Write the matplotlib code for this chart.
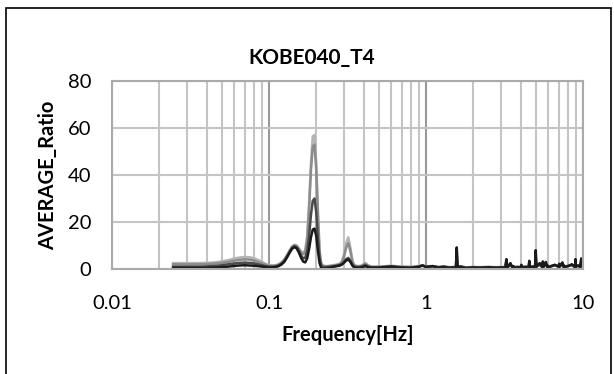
import matplotlib.pyplot as plt
from matplotlib.patches import Rectangle
from matplotlib.ticker import LogLocator, FixedLocator, NullFormatter

# frequency axis [Hz]
freq = [0.0245, 0.03, 0.035, 0.04, 0.045, 0.05, 0.055, 0.06, 0.065, 0.07, 0.075, 0.08, 0.085, 0.09, 0.095, 0.1,
        0.105, 0.11, 0.115, 0.12, 0.125, 0.13, 0.135, 0.14, 0.145, 0.15, 0.155, 0.16, 0.165, 0.17, 0.175, 0.18,
        0.185, 0.19, 0.195, 0.2, 0.205, 0.21, 0.215, 0.22,
        0.23, 0.24, 0.25, 0.26, 0.27, 0.28, 0.29, 0.3, 0.31, 0.32, 0.33, 0.34, 0.35, 0.37, 0.39, 0.41, 0.43, 0.45,
        0.5, 0.55, 0.6, 0.65, 0.7, 0.8, 0.9, 0.95, 1.0, 1.1, 1.2, 1.3, 1.4, 1.5, 1.55, 1.57, 1.59, 1.65,
        1.8, 2.0, 2.2, 2.5, 2.8, 3.1, 3.2, 3.25, 3.3, 3.45, 3.55, 3.6, 3.65, 3.8, 4.0, 4.05, 4.1, 4.3,
        4.5, 4.55, 4.6, 4.8, 4.95, 5.0, 5.05, 5.3, 5.5, 5.55, 5.6, 5.8, 5.9, 5.95, 6.0, 6.3, 6.6, 7.0,
        7.05, 7.1, 7.4, 7.5, 7.55, 7.6, 8.0, 8.5, 8.9, 8.95, 9.0, 9.3, 9.6, 9.75, 9.8, 9.85, 10.0]

ratio_light = [2.5, 2.5, 2.5, 2.6, 2.8, 3.2, 3.8, 4.4, 4.9, 5.1, 5.0, 4.6, 3.9, 3.0, 2.2, 1.6,
               1.5, 1.6, 2.0, 2.8, 4.0, 5.8, 7.8, 9.5, 10.3, 10.0, 8.8, 7.5, 7.0, 8.0, 14.0, 28.0,
               45.0, 56.5, 57.0, 45.0, 25.0, 8.0, 2.5, 1.5,
               1.2, 1.3, 1.5, 1.7, 1.9, 2.2, 3.0, 6.0, 11.0, 13.5, 9.0, 3.5, 1.6, 1.2, 1.5, 2.6, 1.5, 1.0,
               1.0, 1.2, 1.4, 1.2, 1.0, 0.9, 1.2, 1.6, 1.1, 1.3, 0.9, 1.1, 0.8, 0.9, 0.8, 3.0, 0.8, 1.2,
               0.7, 0.9, 0.8, 0.9, 0.8, 0.9, 0.8, 2.0, 0.9, 1.5, 0.9, 1.2, 0.8, 1.0, 0.9, 1.2, 0.9, 1.1,
               0.9, 1.8, 1.0, 1.2, 1.1, 3.0, 1.2, 1.6, 1.0, 1.8, 1.1, 1.8, 1.2, 1.4, 1.0, 1.4, 1.6, 1.2,
               1.6, 1.2, 1.8, 1.2, 1.4, 1.1, 1.4, 1.6, 1.0, 2.0, 1.2, 1.5, 1.1, 2.2, 1.4, 1.8, 1.5]

ratio_mid = [2.0, 2.0, 2.0, 2.1, 2.3, 2.6, 3.0, 3.5, 3.9, 4.1, 4.0, 3.6, 3.0, 2.4, 1.8, 1.4,
             1.3, 1.4, 1.8, 2.6, 3.8, 5.6, 7.6, 9.3, 10.1, 9.8, 8.5, 7.0, 6.3, 7.0, 12.0, 25.0,
             42.0, 52.0, 53.0, 42.0, 22.0, 7.0, 2.2, 1.3,
             1.1, 1.2, 1.3, 1.5, 1.7, 2.0, 2.7, 5.0, 9.0, 11.0, 7.5, 3.0, 1.4, 1.0, 1.3, 2.2, 1.3, 0.9,
             0.9, 1.0, 1.2, 1.0, 0.9, 0.8, 1.1, 1.5, 1.0, 1.2, 0.8, 1.0, 0.7, 0.8, 0.7, 4.0, 0.7, 1.1,
             0.6, 0.8, 0.7, 0.8, 0.7, 0.8, 0.7, 2.5, 0.8, 1.6, 0.8, 1.1, 0.7, 0.9, 0.8, 1.3, 0.8, 1.0,
             0.8, 2.0, 0.9, 1.1, 1.0, 4.0, 1.1, 1.8, 0.9, 2.0, 1.0, 2.0, 1.1, 1.3, 0.9, 1.3, 1.5, 1.1,
             1.6, 1.1, 2.0, 1.1, 1.3, 1.0, 1.3, 1.6, 0.9, 2.4, 1.1, 1.4, 1.0, 2.6, 1.3, 2.0, 1.4]

ratio_dark = [1.0, 1.0, 1.0, 1.1, 1.3, 1.6, 2.0, 2.3, 2.6, 2.7, 2.6, 2.4, 2.0, 1.6, 1.2, 1.0,
              1.0, 1.1, 1.5, 2.2, 3.4, 5.2, 7.2, 8.9, 9.7, 9.3, 7.8, 5.8, 4.5, 4.8, 7.5, 14.0,
              23.0, 29.0, 30.0, 24.0, 13.0, 4.5, 1.5, 0.8,
              0.8, 0.9, 1.0, 1.2, 1.4, 1.6, 2.0, 3.0, 4.2, 4.7, 3.5, 1.8, 1.0, 0.8, 1.0, 1.7, 1.0, 0.7,
              0.7, 0.9, 1.1, 0.9, 0.7, 0.6, 1.0, 1.5, 0.9, 1.2, 0.7, 1.0, 0.6, 0.7, 0.6, 7.5, 0.6, 1.0,
              0.5, 0.7, 0.6, 0.8, 0.6, 0.7, 0.6, 3.6, 0.7, 2.2, 0.7, 1.2, 0.6, 0.8, 0.7, 1.6, 0.7, 0.9,
              0.7, 3.0, 0.8, 1.0, 0.9, 6.5, 1.0, 2.2, 0.8, 2.8, 0.9, 2.6, 1.0, 1.4, 0.8, 1.2, 1.7, 1.0,
              2.0, 1.0, 2.5, 1.0, 1.4, 0.9, 1.2, 1.8, 0.8, 3.6, 1.0, 1.4, 0.9, 4.0, 1.2, 2.6, 1.4]

ratio_black = [0.5, 0.5, 0.5, 0.5, 0.6, 0.8, 1.0, 1.3, 1.5, 1.6, 1.5, 1.4, 1.2, 1.0, 0.8, 0.7,
               0.7, 0.8, 1.2, 1.9, 3.0, 4.8, 6.8, 8.5, 9.3, 8.8, 7.0, 4.8, 3.2, 2.8, 4.5, 8.5,
               13.5, 16.8, 17.2, 14.0, 7.5, 2.5, 0.5, 0.1,
               0.3, 0.5, 0.8, 1.0, 1.2, 1.4, 1.8, 2.6, 3.6, 4.0, 3.0, 1.4, 0.6, 0.5, 0.7, 1.2, 0.7, 0.5,
               0.6, 0.8, 1.0, 0.8, 0.6, 0.5, 0.9, 1.5, 0.8, 1.2, 0.6, 0.9, 0.5, 0.6, 0.5, 9.2, 0.5, 1.0,
               0.4, 0.6, 0.5, 0.7, 0.5, 0.6, 0.5, 4.2, 0.6, 2.5, 0.6, 1.2, 0.5, 0.7, 0.6, 1.8, 0.6, 0.8,
               0.6, 3.5, 0.7, 0.9, 0.8, 8.0, 1.0, 2.5, 0.8, 3.2, 0.9, 3.0, 1.0, 1.5, 0.8, 1.2, 1.8, 1.0,
               2.2, 1.0, 2.8, 1.0, 1.5, 0.9, 1.2, 2.0, 0.8, 4.2, 1.0, 1.5, 0.9, 4.5, 1.2, 3.0, 1.5]

series = [ratio_light, ratio_mid, ratio_dark, ratio_black]
colors = ["#b4b4b4", "#8c8c8c", "#4a4a4a", "#1a1a1a"]

for s in series:
    assert len(s) == len(freq), (len(s), len(freq))

plt.rcParams['font.family'] = ['Lato', 'DejaVu Sans']

fig = plt.figure(figsize=(6.14, 3.74), dpi=100)
ax = fig.add_axes([112/614, 1-269/374, (583-112)/614, (269-81)/374])

for vals, c in zip(series, colors):
    ax.plot(freq, vals, color=c, linewidth=1.8)

ax.set_xscale('log')
ax.set_xlim(0.01, 10)
ax.set_ylim(0, 80)
ax.set_yticks([0, 20, 40, 60, 80])
ax.xaxis.set_major_locator(FixedLocator([0.01, 0.1, 1, 10]))
ax.set_xticklabels(['0.01', '0.1', '1', '10'])
ax.xaxis.set_minor_locator(LogLocator(base=10, subs=range(2, 10)))
ax.xaxis.set_minor_formatter(NullFormatter())

# grid
ax.grid(which='minor', axis='x', color='#c4c4c4', linewidth=1.5)
ax.grid(which='major', axis='x', color='#999999', linewidth=1.5)
ax.grid(which='major', axis='y', color='#c4c4c4', linewidth=1.5)
ax.set_axisbelow(True)

for sp in ax.spines.values():
    sp.set_color('#aaaaaa')
    sp.set_linewidth(1.5)

ax.tick_params(which='both', length=0)
ax.tick_params(axis='x', pad=19, labelsize=14.5)
ax.tick_params(axis='y', pad=15, labelsize=14.5)

# Excel centres the title on the whole chart area, not the plot area
fig.text(312/614, 1-58/374, "KOBE040_T4", fontsize=15, fontweight='bold', ha='center', va='center')
ax.set_xlabel("Frequency[Hz]", fontsize=14.5, fontweight='bold', labelpad=9)
ax.set_ylabel("AVERAGE_Ratio", fontsize=14.5, fontweight='bold', labelpad=7)

# outer frame of the chart
fig.add_artist(Rectangle((6/614, -0.1), (611-6)/614, 1.1-8/374, transform=fig.transFigure,
                         fill=False, edgecolor='black', linewidth=1.2))

plt.savefig("out.png", dpi=100)
plt.close()
